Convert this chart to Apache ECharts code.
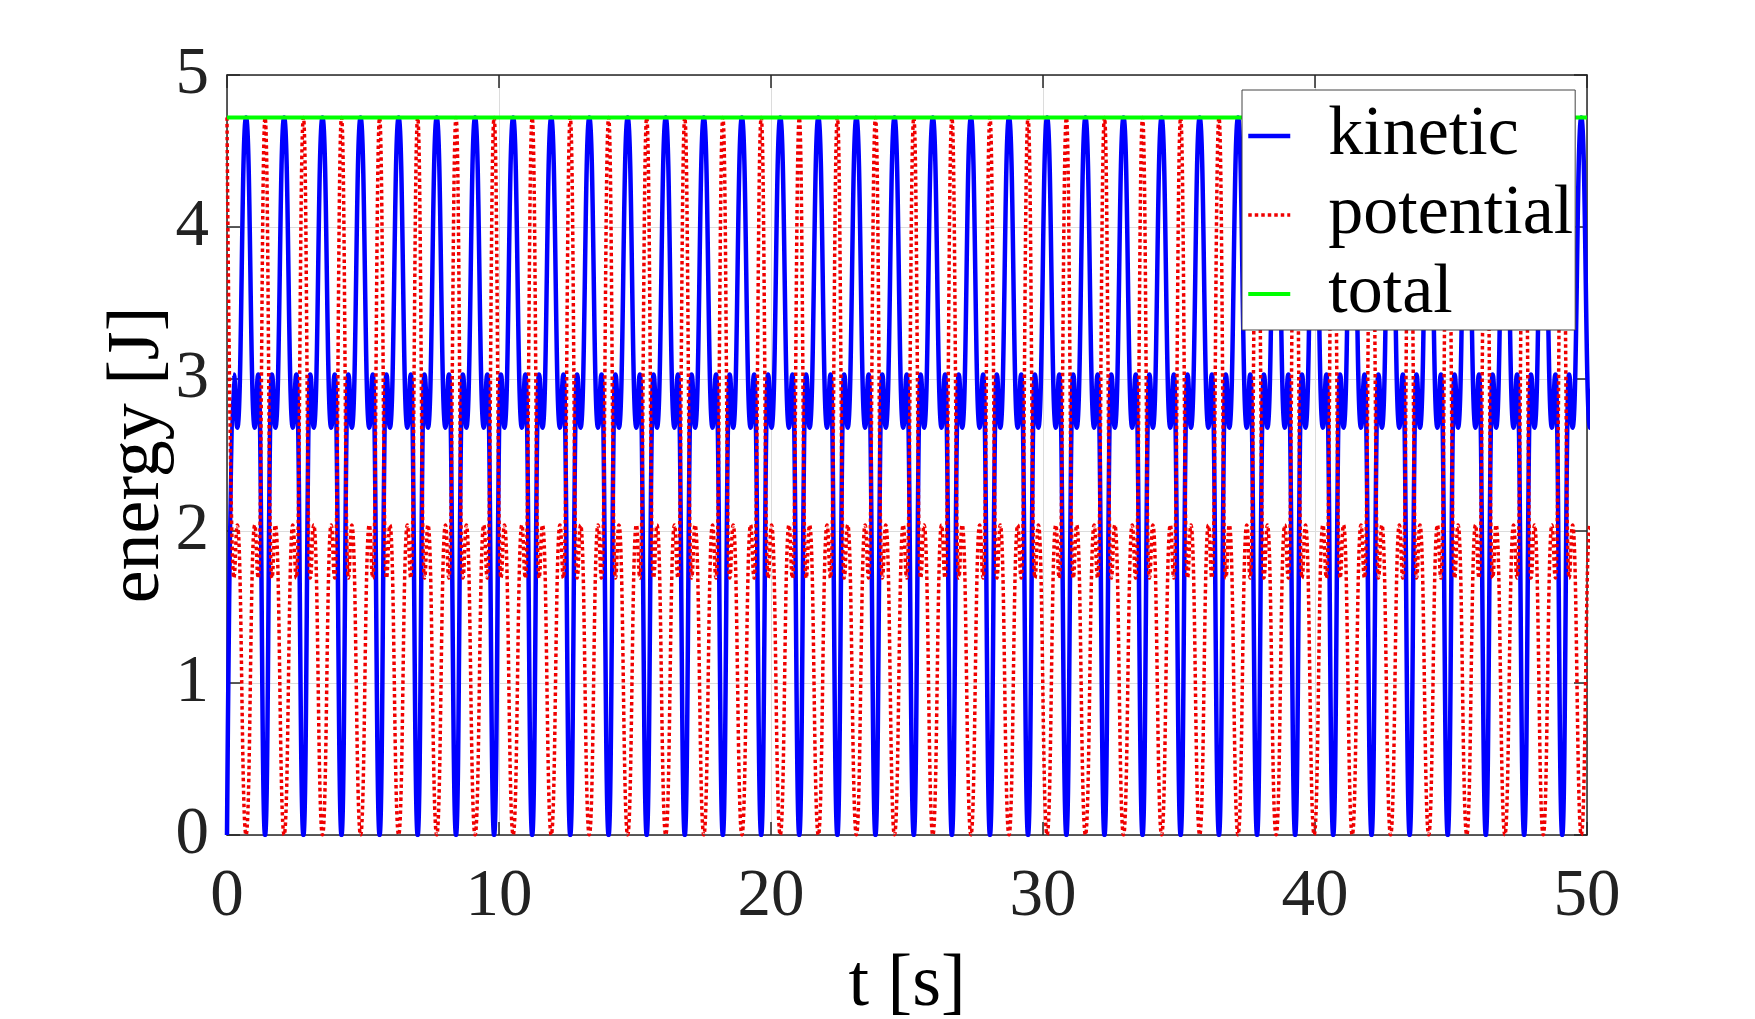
<!DOCTYPE html>
<html>
<head>
<meta charset="utf-8">
<script src="https://cdn.jsdelivr.net/npm/echarts@6/dist/echarts.min.js"></script>
<style>
  html, body { margin: 0; padding: 0; background: #fff; }
  #chart { width: 1755px; height: 1019px; }
</style>
</head>
<body>
<div id="chart"></div>
<script>
// start time of each swing (kinetic energy hits zero)
const cycleStart = [0, 1.40, 2.81, 4.21, 5.61, 7.01, 8.42, 9.82, 11.22, 12.62,
  14.03, 15.43, 16.83, 18.23, 19.64, 21.04, 22.44, 23.84, 25.25, 26.65,
  28.05, 29.45, 30.86, 32.26, 33.66, 35.06, 36.47, 37.87, 39.27, 40.67,
  42.08, 43.48, 44.88, 46.28, 47.69, 49.09, 50.49]
// turning points inside one swing: time after start [s]
const shapeOffset = [0, 0.25, 0.38, 0.70, 1.02, 1.15]
const kineticLevel = [0, 3.03, 2.68, 4.72, 2.68, 3.03]
const potentialLevel = [4.72, 1.69, 2.04, 0, 2.04, 1.69]
const totalEnergy = [[0, 4.72], [50, 4.72]]

const xTicks = [0, 10, 20, 30, 40, 50]
const yTicks = [0, 1, 2, 3, 4, 5]

const kinetic = []
const potential = []
cycleStart.forEach((t0, i) => {
  if (i === cycleStart.length - 1) {
    kinetic.push([t0, kineticLevel[0]])
    potential.push([t0, potentialLevel[0]])
    return
  }
  shapeOffset.forEach((dt, j) => {
    kinetic.push([+(t0 + dt).toFixed(3), kineticLevel[j]])
    potential.push([+(t0 + dt).toFixed(3), potentialLevel[j]])
  })
})

const font = 'Liberation Serif, Times New Roman, serif'
const axisColor = '#262626'

// frame axes (top / right) only carry ticks
const frameAxis = (pos) => ({
  type: 'value', position: pos, min: 0,
  axisLine: { show: true, onZero: false, lineStyle: { color: axisColor, width: 1.5 } },
  axisTick: { show: true, inside: true, length: 13, lineStyle: { color: axisColor, width: 1.5 } },
  axisLabel: { show: false },
  splitLine: { show: false }
})

const chart = echarts.init(document.getElementById('chart'))
const option = {
  backgroundColor: '#fff',
  animation: false,
  grid: { left: 227, top: 75, width: 1360, height: 760, containLabel: false, outerBoundsMode: 'none' },
  legend: {
    orient: 'vertical',
    left: 1242,
    top: 90,
    padding: [11, 2, 1, 4],
    itemWidth: 42,
    itemHeight: 14,
    itemGap: 9,
    backgroundColor: '#fff',
    borderColor: '#444',
    borderWidth: 1,
    itemStyle: { opacity: 0 },
    lineStyle: { width: 'inherit', type: 'inherit' },
    textStyle: { fontFamily: font, fontSize: 70, color: '#000', lineHeight: 60, padding: [0, 0, 0, 33] },
    data: ['kinetic', 'potential', 'total']
  },
  xAxis: [{
    type: 'value', min: xTicks[0], max: xTicks[xTicks.length - 1], interval: 10,
    name: 't [s]', nameLocation: 'middle', nameGap: 114, nameMoveOverlap: false,
    nameTextStyle: { fontFamily: font, fontSize: 74, color: '#000' },
    axisLine: { show: true, onZero: false, lineStyle: { color: axisColor, width: 1.5 } },
    axisTick: { show: true, inside: true, length: 13, lineStyle: { color: axisColor, width: 1.5 } },
    axisLabel: { fontFamily: font, fontSize: 67, color: '#222', margin: 29 },
    splitLine: { show: true, lineStyle: { color: '#dcdcdc', width: 1 } }
  }, Object.assign(frameAxis('top'), { max: 50, interval: 10 })],
  yAxis: [{
    type: 'value', min: yTicks[0], max: yTicks[yTicks.length - 1], interval: 1,
    name: 'energy [J]', nameLocation: 'middle', nameGap: 51, nameRotate: 90, nameMoveOverlap: false,
    nameTextStyle: { fontFamily: font, fontSize: 74, color: '#000' },
    axisLine: { show: true, onZero: false, lineStyle: { color: axisColor, width: 1.5 } },
    axisTick: { show: true, inside: true, length: 13, lineStyle: { color: axisColor, width: 1.5 } },
    axisLabel: { fontFamily: font, fontSize: 67, color: '#222', margin: 18 },
    splitLine: { show: true, lineStyle: { color: '#dcdcdc', width: 1 } }
  }, Object.assign(frameAxis('right'), { max: 5, interval: 1 })],
  series: [
    {
      name: 'kinetic', type: 'line', data: kinetic,
      showSymbol: false, symbol: 'none',
      smooth: 0.5, smoothMonotone: 'x',
      color: '#0000ff',
      lineStyle: { color: '#0000ff', width: 4.5 }
    },
    {
      name: 'potential', type: 'line', data: potential,
      showSymbol: false, symbol: 'none',
      smooth: 0.5, smoothMonotone: 'x',
      color: '#f00000',
      lineStyle: { color: '#f00000', width: 3.5, type: [3.5, 3] }
    },
    {
      name: 'total', type: 'line', data: totalEnergy,
      showSymbol: false, symbol: 'none',
      color: '#00ff00',
      lineStyle: { color: '#00ff00', width: 4 }
    }
  ]
}
chart.setOption(option)
</script>
</body>
</html>
